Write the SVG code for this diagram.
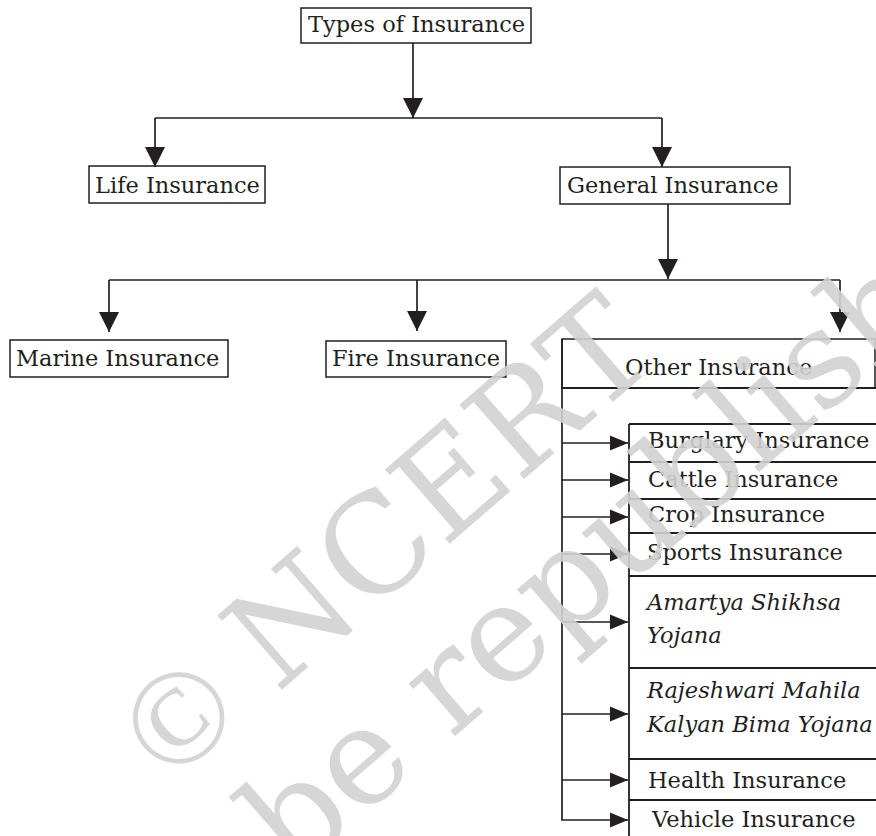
<svg xmlns="http://www.w3.org/2000/svg" width="876" height="836" viewBox="0 0 876 836">
  <style>
    .box { fill: #ffffff; stroke: #231f20; stroke-width: 1.5; }
    .row { fill: none; stroke: #231f20; stroke-width: 1.8; }
    .wire { fill: none; stroke: #231f20; stroke-width: 1.7; }
    .lbl { font-family: "DejaVu Serif", "Liberation Serif", serif; font-size: 22.5px; fill: #231f20; }
    .item { font-family: "DejaVu Serif", "Liberation Serif", serif; font-size: 22.5px; fill: #231f20; }
    .it { font-style: italic; }
    .wm { font-family: "DejaVu Serif", "Liberation Serif", serif; font-size: 135px; fill: #d2d2d2; opacity: 0.9; }
    .wmc { font-family: "Liberation Serif", serif; font-size: 135px; fill: #d2d2d2; opacity: 0.9; }
  </style>
  <defs>
    <marker id="arrowBig" markerUnits="userSpaceOnUse" markerWidth="20" markerHeight="20" viewBox="0 0 18 18" refX="18" refY="9" orient="auto">
      <path d="M0,0 L18,9 L0,18 Z" fill="#231f20"/>
    </marker>
    <marker id="arrowSmall" markerUnits="userSpaceOnUse" markerWidth="18" markerHeight="16" viewBox="0 0 17 14" refX="17" refY="7" orient="auto">
      <path d="M0,0 L17,7 L0,14 Z" fill="#231f20"/>
    </marker>
  </defs>

  <!-- top level -->
  <g id="types">
    <rect class="box" x="301" y="8" width="230" height="35"/>
    <text class="lbl" x="308" y="32">Types of Insurance</text>
  </g>
  <g id="life">
    <rect class="box" x="89" y="166" width="176" height="37"/>
    <text class="lbl" x="95" y="193">Life Insurance</text>
  </g>
  <g id="general">
    <rect class="box" x="560" y="167" width="230" height="37"/>
    <text class="lbl" x="567" y="193">General Insurance</text>
  </g>

  <!-- general insurance branches -->
  <g id="marine">
    <rect class="box" x="10" y="340" width="218" height="37"/>
    <text class="lbl" x="16" y="366">Marine Insurance</text>
  </g>
  <g id="fire">
    <rect class="box" x="326" y="341" width="180" height="36"/>
    <text class="lbl" x="332" y="366">Fire Insurance</text>
  </g>
  <g id="other">
    <path class="box" d="M875,339 H562 V388 H875 Z"/>
    <line class="row" x1="562" y1="388" x2="876" y2="388"/>
    <text class="lbl" x="625" y="375">Other Insurance</text>
  </g>

  <!-- list of other insurance schemes -->
  <g id="items">
    <line class="row" x1="629" y1="424" x2="629" y2="836"/>
    <g id="burglary">
      <line class="row" x1="629" y1="424" x2="876" y2="424"/>
      <text class="item" x="648" y="448">Burglary Insurance</text>
    </g>
    <g id="cattle">
      <line class="row" x1="629" y1="462" x2="876" y2="462"/>
      <text class="item" x="648" y="487">Cattle Insurance</text>
    </g>
    <g id="crop">
      <line class="row" x1="629" y1="499" x2="876" y2="499"/>
      <text class="item" x="648" y="522">Crop Insurance</text>
    </g>
    <g id="sports">
      <line class="row" x1="629" y1="533" x2="876" y2="533"/>
      <text class="item" x="647" y="560">Sports Insurance</text>
    </g>
    <g id="amartya">
      <line class="row" x1="629" y1="576" x2="876" y2="576"/>
      <text class="item it" x="647" y="610">Amartya Shikhsa</text>
      <text class="item it" x="647" y="643">Yojana</text>
    </g>
    <g id="rajeshwari">
      <line class="row" x1="629" y1="668" x2="876" y2="668"/>
      <text class="item it" x="647" y="698">Rajeshwari Mahila</text>
      <text class="item it" x="647" y="732">Kalyan Bima Yojana</text>
    </g>
    <g id="health">
      <line class="row" x1="629" y1="759" x2="876" y2="759"/>
      <text class="item" x="648" y="788">Health Insurance</text>
    </g>
    <g id="vehicle">
      <line class="row" x1="629" y1="800" x2="876" y2="800"/>
      <text class="item" x="652" y="827">Vehicle Insurance</text>
    </g>
  </g>

  <!-- connectors -->
  <g id="connectors">
    <line class="wire" x1="413" y1="43" x2="413" y2="118" marker-end="url(#arrowBig)"/>
    <line class="wire" x1="155" y1="118" x2="662" y2="118"/>
    <line class="wire" x1="155" y1="118" x2="155" y2="167" marker-end="url(#arrowBig)"/>
    <line class="wire" x1="662" y1="118" x2="662" y2="167" marker-end="url(#arrowBig)"/>
    <line class="wire" x1="668" y1="204" x2="668" y2="279" marker-end="url(#arrowBig)"/>
    <line class="wire" x1="109" y1="280" x2="840" y2="280"/>
    <line class="wire" x1="109" y1="280" x2="109" y2="332" marker-end="url(#arrowBig)"/>
    <line class="wire" x1="417" y1="280" x2="417" y2="331" marker-end="url(#arrowBig)"/>
    <line class="wire" x1="840" y1="280" x2="840" y2="332" marker-end="url(#arrowBig)"/>
    <!-- bus down the left side of the other-insurance panel -->
    <path class="wire" d="M562,339 V820 H628" marker-end="url(#arrowSmall)"/>
    <line class="wire" x1="562" y1="443" x2="628" y2="443" marker-end="url(#arrowSmall)"/>
    <line class="wire" x1="562" y1="480" x2="628" y2="480" marker-end="url(#arrowSmall)"/>
    <line class="wire" x1="562" y1="517" x2="628" y2="517" marker-end="url(#arrowSmall)"/>
    <line class="wire" x1="562" y1="554" x2="628" y2="554" marker-end="url(#arrowSmall)"/>
    <line class="wire" x1="562" y1="622" x2="628" y2="622" marker-end="url(#arrowSmall)"/>
    <line class="wire" x1="562" y1="714" x2="628" y2="714" marker-end="url(#arrowSmall)"/>
    <line class="wire" x1="562" y1="780" x2="628" y2="780" marker-end="url(#arrowSmall)"/>
  </g>

  <!-- copyright watermark -->
  <g id="watermark">
    <text class="wmc" transform="translate(169,785) rotate(-41)">©</text>
    <text class="wm" transform="translate(277,694) rotate(-41)">NCERT</text>
    <text class="wm" transform="translate(293,877) rotate(-41)">be republished</text>
  </g>
</svg>
